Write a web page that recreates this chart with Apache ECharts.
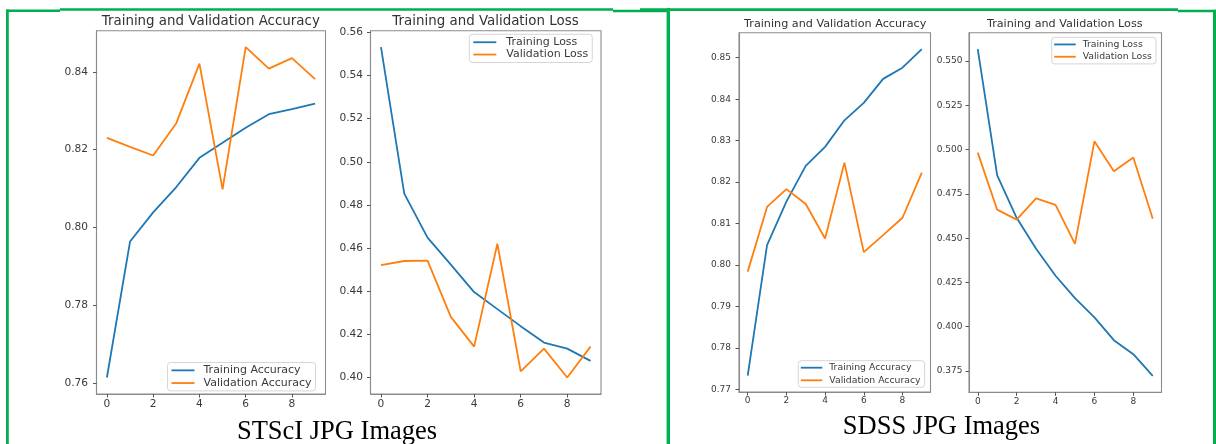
<!DOCTYPE html>
<html>
<head>
<meta charset="utf-8">
<script src="https://cdn.jsdelivr.net/npm/echarts@6/dist/echarts.min.js"></script>
<style>
  html, body { margin: 0; padding: 0; background: #ffffff; }
  #chart { width: 1216px; height: 444px; }
</style>
</head>
<body>
<div id="chart"></div>
<script>
// ---------------- data ----------------
const epochs = [0, 1, 2, 3, 4, 5, 6, 7, 8, 9];
const xTicks = [0, 2, 4, 6, 8];

const stsciTrainAcc  = [0.7615, 0.7964, 0.8039, 0.8104, 0.8179, 0.8218, 0.8256, 0.8291, 0.8304, 0.8318];
const stsciValAcc    = [0.8230, 0.8207, 0.8185, 0.8268, 0.8421, 0.8098, 0.8463, 0.8408, 0.8435, 0.8381];
const stsciTrainLoss = [0.5531, 0.4852, 0.4648, 0.4523, 0.4396, 0.4317, 0.4238, 0.4162, 0.4134, 0.4077];
const stsciValLoss   = [0.4521, 0.4540, 0.4542, 0.4281, 0.4143, 0.4620, 0.4028, 0.4134, 0.4000, 0.4143];

const sdssTrainAcc   = [0.7733, 0.8048, 0.8153, 0.8239, 0.8285, 0.8349, 0.8391, 0.8449, 0.8476, 0.8521];
const sdssValAcc     = [0.7984, 0.8140, 0.8183, 0.8147, 0.8064, 0.8247, 0.8031, 0.8072, 0.8114, 0.8223];
const sdssTrainLoss  = [0.5568, 0.4854, 0.4615, 0.4440, 0.4288, 0.4161, 0.4053, 0.3924, 0.3845, 0.3722];
const sdssValLoss    = [0.4983, 0.4661, 0.4605, 0.4725, 0.4688, 0.4468, 0.5047, 0.4878, 0.4955, 0.4610];

const stsciAccTicks  = [0.76, 0.78, 0.80, 0.82, 0.84];
const stsciLossTicks = [0.40, 0.42, 0.44, 0.46, 0.48, 0.50, 0.52, 0.54, 0.56];
const sdssAccTicks   = [0.77, 0.78, 0.79, 0.80, 0.81, 0.82, 0.83, 0.84, 0.85];
const sdssLossTicks  = [0.375, 0.400, 0.425, 0.450, 0.475, 0.500, 0.525, 0.550];

const panelTitles = ['Training and Validation Accuracy', 'Training and Validation Loss',
                     'Training and Validation Accuracy', 'Training and Validation Loss'];
const captions = ['STScI JPG Images', 'SDSS JPG Images'];
const accNames = ['Training Accuracy', 'Validation Accuracy'];
const lossNames = ['Training Loss', 'Validation Loss'];

// ---------------- styling / layout ----------------
const BLUE = '#1f77b4', ORANGE = '#ff7f0e', GREEN = '#00b050';
const FONT = 'DejaVu Sans';
const TXT = '#3a3a3a';
const SPINE = '#8c8c8c';

const pair = (xs, ys) => xs.map((x, i) => [x, ys[i]]);
const padMin = v => v.min - 0.05 * (v.max - v.min);
const padMax = v => v.max + 0.05 * (v.max - v.min);

const grids = [
  { left: 96.5, top: 30.7, width: 229, height: 363.3 },
  { left: 370.5, top: 30.7, width: 230.5, height: 363.3 },
  { left: 739, top: 32.7, width: 191.5, height: 359.3 },
  { left: 969, top: 32.7, width: 192.5, height: 359.6 }
].map(g => Object.assign(g, { show: true, borderColor: SPINE, borderWidth: 1.1, backgroundColor: 'transparent' }));

const tickFont = [10.6, 10.6, 9.0, 9.0];
const yLabelMargin = [8.5, 7.5, 8, 6.5];
const xLabelMargin = [4.5, 4.5, 4.5, 4.5];

const xAxes = grids.map((g, i) => ({
  type: 'value', gridIndex: i, min: -0.45, max: 9.45, position: 'bottom',
  axisLine: { show: true, onZero: false, lineStyle: { color: SPINE, width: 1.1 } },
  axisTick: { show: true, inside: false, length: 3.5, customValues: xTicks, lineStyle: { color: '#555' } },
  axisLabel: { show: true, customValues: xTicks, margin: xLabelMargin[i], fontFamily: FONT, fontSize: tickFont[i], color: TXT },
  splitLine: { show: false }
}));

const yTickSets = [stsciAccTicks, stsciLossTicks, sdssAccTicks, sdssLossTicks];
const yDecimals = [2, 2, 2, 3];
const yAxes = grids.map((g, i) => ({
  type: 'value', gridIndex: i, min: padMin, max: padMax, scale: true, position: 'left',
  axisLine: { show: true, onZero: false, lineStyle: { color: SPINE, width: 1.1 } },
  axisTick: { show: true, inside: false, length: 3.5, customValues: yTickSets[i], lineStyle: { color: '#555' } },
  axisLabel: { show: true, customValues: yTickSets[i], margin: yLabelMargin[i], fontFamily: FONT, fontSize: tickFont[i], color: TXT,
               formatter: v => v.toFixed(yDecimals[i]) },
  splitLine: { show: false }
}));

function lineSeries(name, data, color, idx) {
  return {
    type: 'line', name: name, xAxisIndex: idx, yAxisIndex: idx,
    data: pair(epochs, data), showSymbol: false, symbol: 'none',
    color: color, itemStyle: { color: color },
    lineStyle: { color: color, width: 1.8 }, silent: true
  };
}

const series = [
  lineSeries(accNames[0], stsciTrainAcc, BLUE, 0),
  lineSeries(accNames[1], stsciValAcc, ORANGE, 0),
  lineSeries(lossNames[0], stsciTrainLoss, BLUE, 1),
  lineSeries(lossNames[1], stsciValLoss, ORANGE, 1),
  lineSeries(accNames[0], sdssTrainAcc, BLUE, 2),
  lineSeries(accNames[1], sdssValAcc, ORANGE, 2),
  lineSeries(lossNames[0], sdssTrainLoss, BLUE, 3),
  lineSeries(lossNames[1], sdssValLoss, ORANGE, 3)
];

function legend(names, left, top, fs, lh, iw, pad, gapExtra) {
  return {
    orient: 'vertical', left: left, top: top, padding: pad,
    itemWidth: iw, itemHeight: 1.8, itemGap: 0, icon: 'rect',
    selectedMode: false,
    borderColor: '#d6d6d6', borderWidth: 1, borderRadius: 3,
    backgroundColor: 'rgba(255,255,255,0.85)',
    textStyle: { fontFamily: FONT, fontSize: fs, color: TXT, lineHeight: lh, padding: [0, 0, 0, gapExtra] },
    data: names
  };
}

const legends = [
  legend(accNames, 167.5, 362.5, 11, 12.7, 23, [1.5, 4, 1.5, 4], 4),
  legend(lossNames, 469.3, 34.3, 11, 12.3, 23, [1.8, 4, 1.8, 4], 5),
  legend(accNames, 798.3, 360.7, 9.3, 12.6, 21.5, [0.7, 4, 0.7, 2.5], 2),
  legend(lossNames, 1051.7, 37.3, 9.3, 12.3, 21.5, [1, 4, 1, 2.5], 2)
];

const titleSpecs = [
  { x: 210.8, y: 21.7, fs: 13.4 },
  { x: 485.5, y: 21.7, fs: 13.4 },
  { x: 835.2, y: 24.2, fs: 11.2 },
  { x: 1064.8, y: 24.2, fs: 11.2 }
];

const graphics = [];
titleSpecs.forEach((t, i) => graphics.push({
  type: 'text', x: t.x, y: t.y, silent: true,
  style: { text: panelTitles[i], fontFamily: FONT, fontSize: t.fs, fill: '#333', align: 'center', verticalAlign: 'middle' }
}));
graphics.push({
  type: 'text', x: 337, y: 432.5, silent: true,
  style: { text: captions[0], fontFamily: 'Liberation Serif', fontSize: 26.5, fill: '#000', align: 'center', verticalAlign: 'middle' }
});
graphics.push({
  type: 'text', x: 941.5, y: 427.5, silent: true,
  style: { text: captions[1], fontFamily: 'Liberation Serif', fontSize: 26.5, fill: '#000', align: 'center', verticalAlign: 'middle' }
});
// green table borders
const greenRects = [
  [6, 9.6, 54, 2.5],
  [60, 8.3, 553, 2.4],
  [613, 9.8, 57, 2.4],
  [640, 8.3, 538, 2.6],
  [1178, 9.8, 38, 2.4],
  [6, 9.6, 2.8, 440],
  [666.6, 8.3, 3.4, 440],
  [1213, 9.8, 3, 440]
];
greenRects.forEach(r => graphics.push({
  type: 'rect', silent: true, z: 100,
  shape: { x: r[0], y: r[1], width: r[2], height: r[3] },
  style: { fill: GREEN }
}));

const chart = echarts.init(document.getElementById('chart'), null, { renderer: 'canvas' });
chart.setOption({
  animation: false,
  backgroundColor: '#ffffff',
  grid: grids,
  xAxis: xAxes,
  yAxis: yAxes,
  legend: legends,
  series: series,
  graphic: graphics
});
</script>
</body>
</html>
